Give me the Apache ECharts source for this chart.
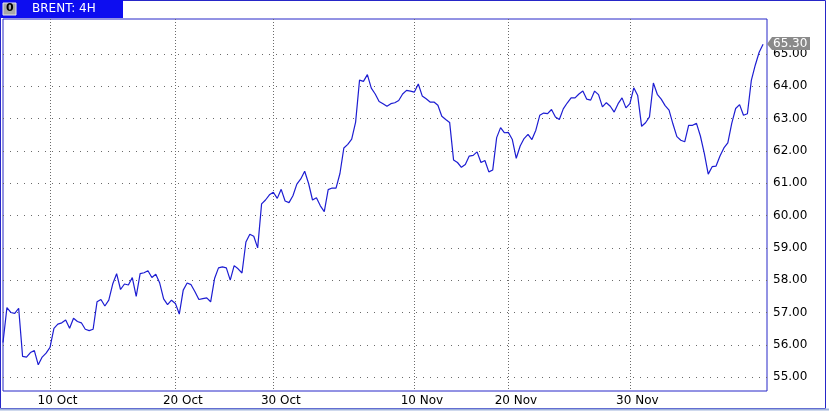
<!DOCTYPE html>
<html>
<head>
<meta charset="utf-8">
<script src="https://cdn.jsdelivr.net/npm/echarts@6/dist/echarts.min.js"></script>
<style>
  html, body { margin: 0; padding: 0; background: #fff; }
  #chart { width: 829px; height: 411px; }
</style>
</head>
<body>
<div id="chart"></div>
<script>
// BRENT 4H closes, one value per bar slot (about 4 slots per trading day)
var prices = [
  56.07, 57.15, 57.00, 56.97, 57.13, 55.64, 55.62, 55.76, 55.82, 55.38,
  55.62, 55.74, 55.92, 56.51, 56.64, 56.68, 56.77, 56.51, 56.82, 56.72,
  56.68, 56.48, 56.44, 56.48, 57.33, 57.40, 57.20, 57.38, 57.88, 58.20,
  57.71, 57.88, 57.85, 58.08, 57.50, 58.20, 58.23, 58.29, 58.08, 58.18,
  57.91, 57.42, 57.24, 57.38, 57.28, 56.95, 57.69, 57.91, 57.86, 57.64,
  57.40, 57.43, 57.45, 57.33, 58.05, 58.38, 58.41, 58.38, 58.00, 58.45,
  58.35, 58.22, 59.18, 59.42, 59.36, 59.00, 60.36, 60.48, 60.64, 60.72,
  60.53, 60.81, 60.45, 60.40, 60.61, 60.97, 61.13, 61.37, 60.99, 60.48,
  60.55, 60.30, 60.12, 60.80, 60.85, 60.85, 61.30, 62.09, 62.20, 62.36,
  62.89, 64.19, 64.15, 64.36, 63.94, 63.76, 63.53, 63.46, 63.38, 63.46,
  63.49, 63.56, 63.76, 63.87, 63.85, 63.82, 64.07, 63.70, 63.61, 63.51,
  63.51, 63.41, 63.07, 62.97, 62.88, 61.72, 61.64, 61.49, 61.58, 61.84,
  61.86, 61.97, 61.64, 61.70, 61.35, 61.41, 62.41, 62.72, 62.56, 62.57,
  62.35, 61.77, 62.15, 62.38, 62.51, 62.35, 62.64, 63.10, 63.17, 63.15,
  63.28, 63.05, 62.97, 63.30, 63.48, 63.64, 63.64, 63.76, 63.85, 63.60,
  63.57, 63.85, 63.74, 63.36, 63.49, 63.38, 63.20, 63.46, 63.64, 63.33,
  63.46, 63.95, 63.71, 62.76, 62.87, 63.05, 64.10, 63.75, 63.60, 63.40,
  63.26, 62.83, 62.44, 62.33, 62.28, 62.79, 62.79, 62.85, 62.46, 61.92,
  61.28, 61.51, 61.53, 61.84, 62.09, 62.25, 62.85, 63.31, 63.43, 63.10,
  63.15, 64.18, 64.65, 65.05, 65.30
];
var slotCount = 196;               // bar slots across the window, last one empty
var tickIndex = [12, 44, 69, 105, 129, 160];
var tickText = ['10 Oct', '20 Oct', '30 Oct', '10 Nov', '20 Nov', '30 Nov'];
var priceTicks = [55, 56, 57, 58, 59, 60, 61, 62, 63, 64, 65];
var symbolName = 'BRENT: 4H';

var slots = [];
for (var i = 0; i < slotCount; i++) slots.push(String(i));

var frameBlue = '#2626c8';
var dots = '#6a6a6a';
var font = 'DejaVu Sans';

var chart = echarts.init(document.getElementById('chart'), null, { renderer: 'canvas' });

function isTick(index) {
  return tickIndex.indexOf(index) >= 0;
}

// window chrome: frame, header tab with the symbol name
function chrome() {
  return [
    { type: 'rect', shape: { x: 0.5, y: 0.5, width: 825, height: 408 },
      style: { fill: null, stroke: frameBlue, lineWidth: 1 }, z: 1 },
    { type: 'line', shape: { x1: 0, y1: 409.5, x2: 829, y2: 409.5 },
      style: { stroke: '#9fb3dc', lineWidth: 2 }, z: 1 },
    { type: 'rect', shape: { x: 0, y: 0, width: 123, height: 18 },
      style: { fill: '#0d0df0' }, z: 2 },
    { type: 'rect', shape: { x: 3, y: 3, width: 13, height: 12 },
      style: { fill: '#a8a8a8', stroke: '#e8e8e8', lineWidth: 1 }, z: 3 },
    { type: 'text', x: 6, y: 3,
      style: { text: '0', fill: '#000', font: 'bold 11px ' + font }, z: 3 },
    { type: 'text', x: 32, y: 3,
      style: { text: symbolName, fill: '#fff', font: '12px ' + font }, z: 3 }
  ];
}

chart.setOption({
  animation: false,
  backgroundColor: '#fff',
  grid: {
    left: 3,
    right: 62,
    top: 19,
    bottom: 20,
    show: true,
    borderColor: frameBlue,
    borderWidth: 1
  },
  xAxis: {
    type: 'category',
    data: slots,
    boundaryGap: false,
    axisLine: { show: false },
    axisTick: { show: false },
    axisLabel: {
      interval: function (index) { return isTick(index); },
      formatter: function (v, index) { return tickText[tickIndex.indexOf(index)]; },
      color: '#000',
      fontFamily: font,
      fontSize: 12,
      margin: 4,
      padding: [0, 0, 0, 15]
    },
    splitLine: {
      show: true,
      interval: function (index) { return isTick(index); },
      lineStyle: { color: dots, width: 1, type: [1, 2] }
    }
  },
  yAxis: {
    type: 'value',
    position: 'right',
    min: 54.57,
    max: 66.08,
    axisLine: { show: false },
    axisTick: { show: false, customValues: priceTicks },
    axisLabel: {
      customValues: priceTicks,
      formatter: function (v) { return v.toFixed(2); },
      color: '#000',
      fontFamily: font,
      fontSize: 12,
      margin: 6,
      showMinLabel: true,
      showMaxLabel: true
    },
    splitLine: {
      show: true,
      lineStyle: { color: dots, width: 1, type: [1, 6] }
    }
  },
  series: [{
    type: 'line',
    data: prices,
    symbol: 'none',
    lineStyle: { color: '#1d1dd2', width: 1.2 },
    z: 5
  }],
  graphic: chrome()
});

// last-price tag on the price scale
var last = prices[prices.length - 1];
var py = Math.round(chart.convertToPixel({ yAxisIndex: 0 }, last));
var px = 767;
chart.setOption({
  graphic: chrome().concat([
    { type: 'polygon',
      shape: { points: [[px, py], [px + 5, py - 7], [px + 43, py - 7], [px + 43, py + 6], [px + 5, py + 6]] },
      style: { fill: '#8a8a8a' }, z: 10 },
    { type: 'text', x: px + 6, y: py - 6,
      style: { text: last.toFixed(2), fill: '#fff', font: '12px ' + font }, z: 11 }
  ])
}, { replaceMerge: ['graphic'] });
</script>
</body>
</html>
